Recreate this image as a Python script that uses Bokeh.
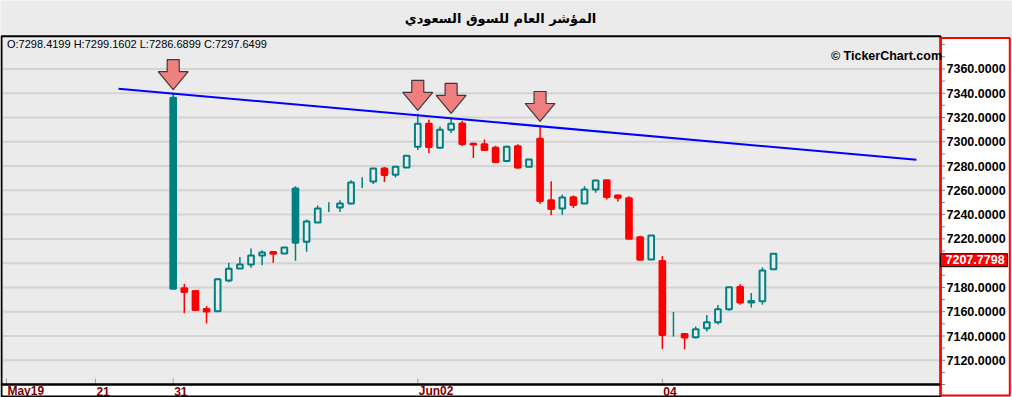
from bokeh.plotting import figure
from bokeh.models import ColumnDataSource, Range1d, BoxAnnotation, Label
from bokeh.core.properties import value
from bokeh.embed import file_html
from bokeh.resources import INLINE

# ---------------- data ----------------
title_text = "المؤشر العام للسوق السعودي"
watermark_text = "© TickerChart.com"

candle_index = list(range(1, 56))
opens = [7336.2, 7179.3, 7177.1, 7162.3, 7160.4, 7185.8, 7195.7, 7198.9, 7206.4, 7209.1,
         7208.0, 7261.4, 7217.6, 7233.5, 7245.0, 7245.8, 7249.1, 7266.4, 7267.2, 7277.9,
         7272.9, 7278.7, 7295.9, 7314.8, 7295.1, 7309.9, 7315.1, 7298.4199, 7297.9, 7295.1,
         7284.2, 7296.2, 7279.5, 7302.5, 7251.8, 7245.0, 7254.3, 7249.1, 7260.6, 7268.3,
         7255.7, 7253.5, 7221.4, 7203.1, 7201.7, 7140.5, 7141.7, 7139.0, 7146.4, 7151.3,
         7162.0, 7180.3, 7168.8, 7168.6, 7194.9]
highs = [7339.5, 7182.8, 7177.5, 7164.7, 7187.8, 7200.3, 7205.0, 7212.1, 7210.7, 7209.1,
         7212.9, 7263.3, 7235.9, 7247.5, 7250.2, 7251.8, 7268.3, 7270.7, 7277.9, 7279.2,
         7279.5, 7288.5, 7323.0, 7318.1, 7312.6, 7318.9, 7317.0, 7299.1602, 7301.9, 7296.8,
         7297.0, 7297.9, 7285.3, 7312.1, 7267.4, 7256.5, 7255.7, 7263.3, 7268.0, 7268.3,
         7256.8, 7255.1, 7222.5, 7222.8, 7205.8, 7159.8, 7141.7, 7147.8, 7157.3, 7165.6,
         7180.1, 7182.8, 7175.4, 7196.5, 7207.7798]
lows = [7179.0, 7158.7, 7160.9, 7150.5, 7160.4, 7184.2, 7195.5, 7196.2, 7198.2, 7200.3,
        7208.0, 7202.0, 7209.4, 7233.5, 7242.2, 7242.2, 7248.3, 7262.0, 7265.3, 7266.9,
        7270.5, 7278.7, 7293.2, 7290.7, 7295.1, 7307.2, 7296.5, 7286.6899, 7293.2, 7283.3,
        7283.1, 7277.6, 7279.5, 7248.8, 7239.5, 7239.8, 7245.5, 7249.1, 7257.9, 7252.4,
        7250.7, 7220.1, 7202.8, 7203.1, 7129.4, 7139.5, 7128.9, 7137.9, 7143.7, 7149.4,
        7160.9, 7165.8, 7163.4, 7165.8, 7194.9]
closes = [7179.0, 7176.2, 7161.4, 7160.1, 7186.7, 7195.4, 7198.9, 7206.4, 7208.8, 7207.7,
          7212.9, 7216.8, 7234.3, 7245.0, 7245.0, 7249.1, 7266.4, 7266.4, 7277.9, 7272.7,
          7279.5, 7288.5, 7314.8, 7295.7, 7309.9, 7314.8, 7298.1, 7297.6499, 7293.2, 7283.3,
          7295.9, 7278.9, 7285.3, 7251.3, 7244.7, 7254.0, 7248.0, 7260.6, 7268.0, 7254.6,
          7253.8, 7220.1, 7202.8, 7222.8, 7140.9, 7140.5, 7138.7, 7145.6, 7151.3, 7162.0,
          7180.1, 7167.5, 7167.6, 7194.0, 7207.7798]

x_tick_positions = [-14, -6, 1, 23, 45]
x_tick_labels = ["May19", "21", "31", "Jun02", "04"]
y_major_ticks = list(range(7120, 7361, 20))
y_minor_ticks = list(range(7100, 7381, 10))

trend_x = [-3.92, 67.86]
trend_y = [7343.7, 7285.2]

arrow_index = [1, 23, 26, 34]
arrow_tip = [7343.0, 7325.8, 7323.3, 7316.7]

readout_candle = 28

# ---------------- layout / style ----------------
W, H = 1012, 397
TEAL = "#008080"
RED = "#ff0000"
BG = "#ebebeb"
SX = 11.117            # px per candle slot
SY = 1.214             # px per index point
X0 = 1 - 172.7 / SX    # slot value at the left edge of the canvas
YT = 7340 + 92.7 / SY  # price at the top edge of the canvas
X1 = X0 + W / SX
Y0 = YT - H / SY
TAG_H = 15             # height of the last-price tag, px


def px2x(px):
    return X0 + px / SX


def py2y(py):
    return YT - py / SY


p = figure(width=W, height=H, title=None,
           x_range=Range1d(X0, X1), y_range=Range1d(Y0, YT),
           x_axis_type=None, y_axis_type=None, min_border=0,
           toolbar_location=None, output_backend="svg",
           background_fill_color=BG, border_fill_color=BG, outline_line_color=None)


def sbox(l, r, t, b, **kw):
    return BoxAnnotation(left=l, right=r, top=H - t, bottom=H - b,
                         left_units="screen", right_units="screen",
                         top_units="screen", bottom_units="screen", **kw)


# panels (fills)
p.add_layout(sbox(1, 940, 384, 396, fill_color="white", fill_alpha=1,
                  line_color=None, level="underlay"))
p.add_layout(sbox(940.2, 1009.3, 37.5, 395, fill_color="white", fill_alpha=1,
                  line_color=None, level="underlay"))

# horizontal grid lines in the chart area
p.segment(x0=[px2x(2)] * len(y_major_ticks), y0=y_major_ticks,
          x1=[px2x(939)] * len(y_major_ticks), y1=y_major_ticks,
          line_color="#d3d3d3", line_width=2)

# candles
prev_close = [None] + closes[:-1]
kind = []
for o, c, pc in zip(opens, closes, prev_close):
    if c > o:
        kind.append("up")
    elif c < o and pc is not None and c < pc:
        kind.append("down")
    elif c < o:
        kind.append("down_hold")
    else:
        kind.append("flat")
col = [RED if k == "down" else TEAL for k in kind]
fill = [BG if k == "up" else cc for k, cc in zip(kind, col)]

wick = ColumnDataSource(dict(x=candle_index, lo=lows, hi=highs, c=col))
p.segment(x0="x", y0="lo", x1="x", y1="hi", line_color="c", line_width=1.5, source=wick)

bi = [i for i, k in enumerate(kind) if k != "flat"]
body = ColumnDataSource(dict(
    x=[candle_index[i] for i in bi],
    top=[max(opens[i], closes[i]) for i in bi],
    bottom=[min(opens[i], closes[i]) for i in bi],
    lc=[col[i] for i in bi],
    fc=[fill[i] for i in bi]))
p.vbar(x="x", width=0.51, top="top", bottom="bottom", fill_color="fc",
       line_color="lc", line_width=2, source=body)

# trend line
p.line(trend_x, trend_y, line_color="#0000ff", line_width=2)

# arrows (pixel shape converted through the scales)
shape_px = [(0, 0), (-15, 18), (-6, 18), (-6, 30), (6, 30), (6, 18), (15, 18)]
axs = [[i + dx / SX for dx, dy in shape_px] for i in arrow_index]
ays = [[t + dy / SY for dx, dy in shape_px] for t in arrow_tip]
p.patches(axs, ays, fill_color="#f08080", line_color="#3a3a3a", line_width=1.2)

# x axis: ticks and labels
n = len(x_tick_positions)
p.segment(x0=x_tick_positions, y0=[py2y(378)] * n, x1=x_tick_positions, y1=[py2y(383)] * n,
          line_color="#a0a0a0", line_width=1)
p.text(x=x_tick_positions, y=[py2y(390.5)] * n, text=x_tick_labels, x_offset=1,
       text_align="left", text_baseline="middle", text_color="#800000",
       text_font=value("Liberation Sans"), text_font_style="bold", text_font_size="12px")

# y axis (right panel): ticks and labels (labels under the last-price tag are hidden)
m = len(y_minor_ticks)
p.segment(x0=[px2x(941)] * m, y0=y_minor_ticks, x1=[px2x(944.5)] * m, y1=y_minor_ticks,
          line_color="#808080", line_width=1)
last = closes[-1]
shown = [t for t in y_major_ticks if not (0 <= (last - t) * SY <= TAG_H)]
p.text(x=[px2x(946)] * len(shown), y=shown,
       text=[f"{t:.4f}" for t in shown],
       text_align="left", text_baseline="middle", text_color="black",
       text_font=value("Liberation Sans"), text_font_style="bold", text_font_size="12.5px")

# borders
p.add_layout(sbox(1, 940, 35.7, 384, fill_alpha=0, line_color="black", line_alpha=1,
                  line_width=2, level="annotation"))
p.add_layout(sbox(1, 940, 384, 396, fill_alpha=0, line_color="black", line_alpha=1,
                  line_width=2, level="annotation"))
p.add_layout(sbox(940.2, 1009.3, 37.5, 395, fill_alpha=0, line_color="red", line_alpha=1,
                  line_width=2, level="annotation"))

# texts
p.add_layout(Label(x=500, y=H - 18, x_units="screen", y_units="screen", text=title_text,
                   text_align="center", text_baseline="middle",
                   text_font="DejaVu Sans", text_font_style="bold",
                   text_font_size="13px", text_color="black"))
k = readout_candle - 1
readout = (f"O:{opens[k]:.4f}  H:{highs[k]:.4f}  "
           f"L:{lows[k]:.4f}  C:{closes[k]:.4f}")
p.add_layout(Label(x=6.5, y=H - 43.5, x_units="screen", y_units="screen", text=readout,
                   text_align="left", text_baseline="middle",
                   text_font="Liberation Sans", text_font_size="11px",
                   text_color="black"))
p.add_layout(Label(x=941.5, y=H - 55.5, x_units="screen", y_units="screen",
                   text=watermark_text, text_align="right", text_baseline="middle",
                   text_font="Liberation Sans", text_font_style="bold",
                   text_font_size="12.5px", text_color="black"))
p.add_layout(Label(x=940, y=last, x_units="screen", text=f"{last:.4f}",
                   text_align="left", text_baseline="top",
                   text_font="Liberation Sans", text_font_style="bold",
                   text_font_size="12.5px", text_color="white",
                   background_fill_color="red", border_line_color="black",
                   border_line_width=1, padding=dict(left=5, right=3, top=1, bottom=3)))

open("out.html", "w").write(file_html(p, INLINE))
